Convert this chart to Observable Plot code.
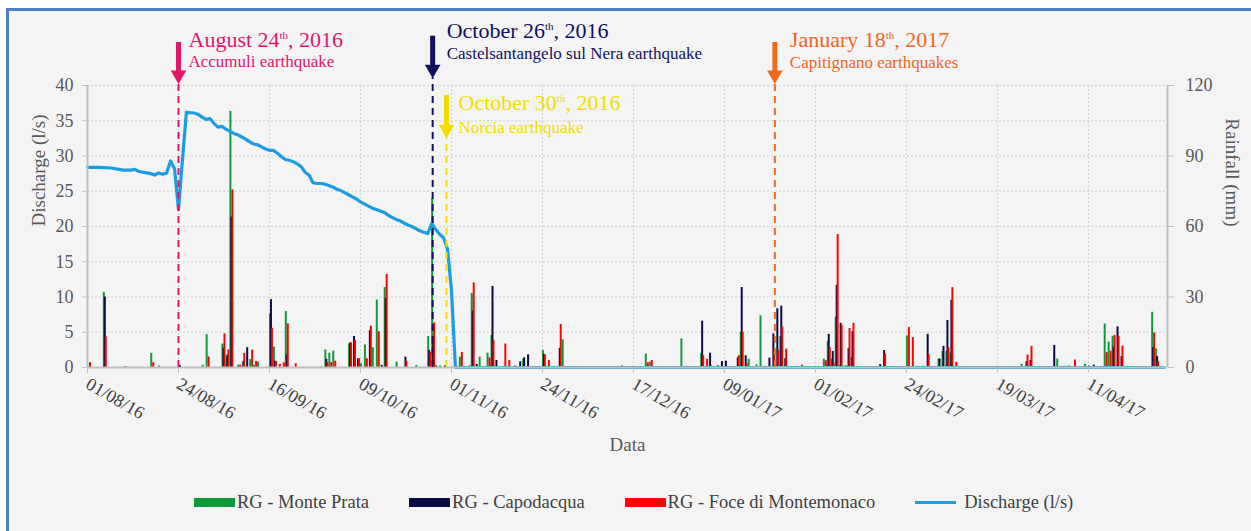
<!DOCTYPE html>
<html><head><meta charset="utf-8">
<script src="https://cdn.jsdelivr.net/npm/d3@7"></script>
<script src="https://cdn.jsdelivr.net/npm/@observablehq/plot@0.6"></script>
<style>
html,body{margin:0;padding:0;background:#fff;}
#wrap{position:relative;width:1251px;height:531px;overflow:hidden;font-family:"Liberation Serif","Times New Roman",serif;}
#frame{position:absolute;left:6px;top:8px;width:1260px;height:540px;background:#f4f4f4;border-left:3px solid #4f7fc0;border-top:3px solid #4f7fc0;}
#chart{position:absolute;left:0;top:0;}
#legend{position:absolute;left:194px;top:492px;display:flex;gap:40px;align-items:center;font-size:18.5px;color:#404040;white-space:nowrap;}
.item{display:flex;align-items:center;gap:2px;}
.sw{width:41px;height:9px;}
.ln{width:41px;height:3px;margin-right:6px;}
</style></head>
<body>
<div id="wrap"><div id="frame"></div><div id="chart"></div><div id="legend"></div></div>
<script>
// ---------- data ----------
const tickDateStrings = ["2016-08-01","2016-08-24","2016-09-16","2016-10-09","2016-11-01","2016-11-24","2016-12-17","2017-01-09","2017-02-01","2017-02-24","2017-03-19","2017-04-11"];

const seriesNames = ["RG - Monte Prata","RG - Capodacqua","RG - Foce di Montemonaco","Discharge (l/s)"];
const seriesColors = ["#0c9a3a","#0a0a45","#ff0000","#1b9de2"];

// daily rainfall (mm)
const montePrata = [
["2016-08-05",32],["2016-08-17",6],["2016-08-19",0.7],["2016-08-30",1],["2016-08-31",14],
["2016-09-04",10],["2016-09-05",4.8],["2016-09-06",109],["2016-09-08",1],["2016-09-11",3.4],["2016-09-12",0.9],["2016-09-13",2.3],["2016-09-16",22.8],["2016-09-17",8.7],["2016-09-20",23.8],["2016-09-29",0.3],["2016-09-30",7.5],
["2016-10-01",6.1],["2016-10-02",7],["2016-10-06",10],["2016-10-09",1.6],["2016-10-10",9.6],["2016-10-12",8.4],["2016-10-13",28.7],["2016-10-15",34],["2016-10-18",2.3],["2016-10-23",0.9],["2016-10-26",13.2],["2016-10-27",72],["2016-10-28",0.9],["2016-10-29",0.7],
["2016-11-03",4.4],["2016-11-06",31.5],["2016-11-08",4.4],["2016-11-10",6.1],["2016-11-11",13.6],["2016-11-17",0.7],["2016-11-19",3.5],["2016-11-24",7.2],["2016-11-29",11.8],
["2016-12-14",0.7],["2016-12-20",5.7],["2016-12-21",2.3],["2016-12-29",12.2],["2016-12-30",0.5],
["2017-01-02",0.4],["2017-01-03",6.1],["2017-01-13",15],["2017-01-15",3.5],["2017-01-17",1.1],["2017-01-18",22],["2017-01-23",13.2],
["2017-02-03",3.6],["2017-02-04",11.1],["2017-02-05",3.6],["2017-02-06",21.4],["2017-02-07",0.7],["2017-02-10",4.3],["2017-02-24",13.4],
["2017-03-04",3.6],["2017-03-05",6.8],["2017-03-06",6.8],["2017-03-07",6.2],["2017-03-25",1.4],
["2017-04-03",3.6],["2017-04-04",0.5],["2017-04-05",0.5],["2017-04-06",0.7],["2017-04-10",1.4],["2017-04-11",0.7],["2017-04-15",18.5],["2017-04-16",10.8],["2017-04-17",13.3],["2017-04-27",23.5],["2017-04-28",7.9]
];
const capodacqua = [
["2016-08-05",30],["2016-08-24",0.8],["2016-09-04",8.2],["2016-09-05",5.4],["2016-09-06",64],["2016-09-09",2.5],["2016-09-10",8.4],["2016-09-16",28.9],["2016-09-17",2.6],["2016-09-20",5.4],["2016-09-30",3.5],
["2016-10-06",10.4],["2016-10-07",13.2],["2016-10-08",3.7],["2016-10-11",15.7],["2016-10-14",0.9],["2016-10-15",29.4],["2016-10-20",4.4],["2016-10-26",7.2],["2016-10-27",10.5],["2016-10-30",0.7],
["2016-11-06",24],["2016-11-07",1.3],["2016-11-11",34.5],["2016-11-12",3],["2016-11-18",2.4],["2016-11-19",4.1],["2016-11-20",5.4],["2016-11-24",5.5],["2016-11-28",8.2],["2016-11-30",0.4],
["2017-01-03",19.7],["2017-01-05",6.1],["2017-01-07",0.7],["2017-01-08",2.5],["2017-01-09",2.7],["2017-01-11",0.3],["2017-01-12",4.1],["2017-01-13",34],["2017-01-14",5],["2017-01-20",4],["2017-01-21",14.3],["2017-01-22",25],["2017-01-23",26.1],["2017-01-24",3.8],
["2017-02-04",14.1],["2017-02-05",6.8],["2017-02-06",35],["2017-02-07",18.8],["2017-02-09",8],["2017-02-10",15.2],["2017-02-17",1.2],["2017-02-18",7.2],["2017-02-28",0.5],
["2017-03-01",14.1],["2017-03-04",3.6],["2017-03-05",9],["2017-03-06",20],["2017-03-07",28.6],["2017-03-26",2.5],["2017-03-27",3],
["2017-04-02",9.4],["2017-04-12",1],["2017-04-17",8.7],["2017-04-18",17.3],["2017-04-19",4.6],["2017-04-27",8.4],["2017-04-28",4.6]
];
const foceMontemonaco = [
["2016-08-01",2],["2016-08-05",13],["2016-08-10",0.4],["2016-08-17",2],["2016-08-31",4.5],
["2016-09-04",14.3],["2016-09-05",7.5],["2016-09-06",75.6],["2016-09-08",1],["2016-09-09",6],["2016-09-11",7.4],["2016-09-12",2.6],["2016-09-16",16.7],["2016-09-17",2.6],["2016-09-18",1.3],["2016-09-19",2],["2016-09-20",18.6],["2016-09-22",1.6],["2016-09-30",2.1],
["2016-10-01",2.1],["2016-10-02",2.7],["2016-10-06",10.5],["2016-10-07",11.5],["2016-10-08",3.7],["2016-10-10",3.7],["2016-10-11",17.6],["2016-10-13",15.2],["2016-10-15",39.6],["2016-10-20",2.6],["2016-10-26",6.4],["2016-10-27",19],
["2016-11-03",6.4],["2016-11-05",0.7],["2016-11-06",36],["2016-11-10",4.1],["2016-11-11",11.5],["2016-11-14",10],["2016-11-15",3],["2016-11-24",5.4],["2016-11-25",3],["2016-11-28",18.3],
["2016-12-15",0.4],["2016-12-20",2],["2016-12-21",3],
["2017-01-03",5],["2017-01-04",3.5],["2017-01-05",0.7],["2017-01-12",5],["2017-01-13",15],["2017-01-14",1.6],["2017-01-21",7],["2017-01-22",7.2],["2017-01-23",17.2],["2017-01-24",7.8],["2017-01-25",0.4],["2017-01-27",0.4],["2017-01-28",1],
["2017-02-03",2.9],["2017-02-04",8.4],["2017-02-05",1.9],["2017-02-06",56.6],["2017-02-07",18],["2017-02-08",0.7],["2017-02-09",16.6],["2017-02-10",18.8],["2017-02-18",5.8],["2017-02-24",17],["2017-02-25",12.7],
["2017-03-01",5.5],["2017-03-05",0.5],["2017-03-06",8.4],["2017-03-07",34],["2017-03-08",2.2],["2017-03-26",5.3],["2017-03-27",9],
["2017-04-07",3.2],["2017-04-15",6.3],["2017-04-16",6.9],["2017-04-17",13.7],["2017-04-18",13.3],["2017-04-19",9.1],["2017-04-20",0.5],["2017-04-27",14.7],["2017-04-28",2.5]
];

// discharge (l/s)
const discharge = [
["2016-08-01",28.4],["2016-08-04",28.4],["2016-08-07",28.3],["2016-08-10",28.0],["2016-08-12",28.0],["2016-08-13",28.1],["2016-08-14",27.8],["2016-08-16",27.6],["2016-08-17",27.5],["2016-08-18",27.3],["2016-08-19",27.6],["2016-08-20",27.4],["2016-08-21",27.6],["2016-08-22",29.3],["2016-08-23",28.2],["2016-08-24",22.4],["2016-08-25",29.5],["2016-08-26",36.2],["2016-08-28",36.1],["2016-08-29",35.9],["2016-08-30",35.5],["2016-08-31",35.2],
["2016-09-01",35.3],["2016-09-02",34.6],["2016-09-03",34.1],["2016-09-04",34.2],["2016-09-05",33.8],["2016-09-06",33.5],["2016-09-07",33.2],["2016-09-08",33.0],["2016-09-09",32.7],["2016-09-10",32.4],["2016-09-11",32.0],["2016-09-12",31.7],["2016-09-13",31.6],["2016-09-14",31.3],["2016-09-15",31.0],["2016-09-16",30.8],["2016-09-17",30.8],["2016-09-18",30.4],["2016-09-19",29.9],["2016-09-20",29.5],["2016-09-21",29.4],["2016-09-22",29.2],["2016-09-23",28.9],["2016-09-24",28.5],["2016-09-25",27.7],["2016-09-26",27.3],["2016-09-27",26.2],["2016-09-28",26.1],["2016-09-29",26.1],["2016-09-30",26.0],
["2016-10-01",25.8],["2016-10-02",25.6],["2016-10-03",25.3],["2016-10-04",25.1],["2016-10-05",24.8],["2016-10-06",24.5],["2016-10-07",24.2],["2016-10-08",23.9],["2016-10-09",23.5],["2016-10-10",23.2],["2016-10-11",22.9],["2016-10-12",22.6],["2016-10-13",22.4],["2016-10-14",22.2],["2016-10-15",22.0],["2016-10-16",21.6],["2016-10-17",21.3],["2016-10-18",21.0],["2016-10-19",20.8],["2016-10-20",20.5],["2016-10-21",20.2],["2016-10-22",20.0],["2016-10-23",19.7],["2016-10-24",19.4],["2016-10-25",19.2],["2016-10-26",19.0],["2016-10-27",20.4],["2016-10-28",19.6],["2016-10-29",18.9],["2016-10-30",18.4],["2016-10-31",16.8],
["2016-11-01",11.0],["2016-11-02",0],["2017-04-30",0]
];

// earthquake annotations
const eventTitles = ["August 24th, 2016","October 26th, 2016","October 30th, 2016","January 18th, 2017"];
const eventSubtitles = ["Accumuli earthquake","Castelsantangelo sul Nera earthquake","Norcia earthquake","Capitignano earthquakes"];
const eventLineDates = ["2016-08-24T00:00Z","2016-10-27T06:00Z","2016-10-30T18:00Z","2017-01-21T18:00Z"]; // where the dashed lines are drawn in the source
const eventColors = ["#e3156b","#10105c","#f5dc00","#ef6a1a"];
const eventTextColors = ["#e3156b","#10105c","#f2dc00","#f26522"];

// ---------- layout (pixel styling, not data) ----------
const eventLayout = [ // in axis units of the left scale
  {top:46.1, tip:40.3, titleY:45.5, subY:42.6, dx:10},
  {top:47.0, tip:41.1, titleY:46.8, subY:43.7, dx:14},
  {top:38.6, tip:32.6, titleY:36.5, subY:33.3, dx:12},
  {top:46.1, tip:40.3, titleY:45.4, subY:42.5, dx:15}
];

const parse = d3.utcParse("%Y-%m-%d");
const DAY = 864e5;
const tickDates = tickDateStrings.map(parse);
const rainSets = [montePrata, capodacqua, foceMontemonaco];
const offsets = [0, 0.25, 0.5];
const bars = rainSets.flatMap((set, i) => set.map(([d, mm]) => ({date: parse(d), mm, series: seriesNames[i], off: offsets[i]})));
const q = discharge.map(([d, v]) => ({date: parse(d), v}));
const events = eventTitles.map((t, i) => ({title: t, sub: eventSubtitles[i], date: new Date(eventLineDates[i]), color: eventColors[i], tcolor: eventTextColors[i], ...eventLayout[i]}));

const domainX = [parse("2016-08-01"), parse("2017-05-01")];
const axisGrey = "#bfbfbf";

const marks = [
  Plot.gridY(d3.range(5, 41, 5), {stroke: "#cfcfcf", strokeOpacity: 1, strokeDasharray: "2,2"}),
  Plot.gridX(tickDates.slice(1), {stroke: "#cfcfcf", strokeOpacity: 1, strokeDasharray: "2,2"}),
  Plot.rect(bars, {
    x1: d => new Date(+d.date + d.off * DAY),
    x2: d => new Date(+d.date + (d.off + 0.5) * DAY),
    y1: () => 0, y2: d => d.mm / 3, fill: "series"
  }),
  Plot.line(q, {x: "date", y: "v", stroke: seriesColors[3], strokeWidth: 3.2, strokeLinejoin: "round"}),
  Plot.ruleY([0], {stroke: axisGrey, strokeWidth: 2}),
  Plot.ruleX([domainX[0], domainX[1]], {y1: 0, y2: 40, stroke: axisGrey, strokeWidth: 2}),
  Plot.axisY({anchor: "left", ticks: d3.range(0, 41, 5), tickSize: 5, tickPadding: 9, fontSize: 18, label: null, stroke: axisGrey, fill: "#595959"}),
  Plot.axisY({anchor: "right", ticks: [0, 10, 20, 30, 40], tickFormat: d => d * 3, tickSize: 6, tickPadding: 12, fontSize: 18, label: null, stroke: axisGrey, fill: "#595959"}),
  Plot.axisX({ticks: tickDates, tickFormat: d3.utcFormat("%d/%m/%y"), tickRotate: 30, tickSize: 6, tickPadding: 9, fontSize: 18, label: null, stroke: axisGrey, fill: "#404040"}),
  Plot.text(["Discharge (l/s)"], {frameAnchor: "left", dx: -49, rotate: -90, fontSize: 19, fill: "#595959"}),
  Plot.text(["Rainfall (mm)"], {frameAnchor: "right", dx: 65, rotate: 90, fontSize: 19, fill: "#595959"}),
  Plot.text(["Data"], {frameAnchor: "bottom", dy: 83, fontSize: 19, fill: "#595959"}),
  // event dashed lines
  Plot.ruleX(events, {x: "date", y1: () => 0, y2: "tip", stroke: "color", strokeWidth: 2, strokeDasharray: "7,5"}),
  // arrow shafts
  Plot.ruleX(events, {x: "date", y1: "top", y2: d => d.tip + 1.6, stroke: "color", strokeWidth: 5}),
  // arrow heads
  Plot.dot(events, {x: "date", y: "tip", dy: -8.5, symbol: "triangle", rotate: 180, r: 5.8, fill: "color", stroke: "none"}),
  ...events.map(e => Plot.text([e], {x: "date", y: "titleY", dx: e.dx, text: "title", textAnchor: "start", lineAnchor: "bottom", fontSize: 22, fill: "tcolor"})),
  ...events.map(e => Plot.text([e], {x: "date", y: "subY", dx: e.dx, text: "sub", textAnchor: "start", lineAnchor: "bottom", fontSize: 17, fill: "tcolor"}))
];

const chart = Plot.plot({
  width: 1251, height: 480,
  marginLeft: 87, marginRight: 84, marginTop: 85, marginBottom: 113,
  style: {background: "transparent", fontFamily: "'Liberation Serif', 'Times New Roman', serif", fontSize: "17px", color: "#595959", overflow: "visible"},
  x: {type: "utc", domain: domainX},
  y: {domain: [0, 40]},
  color: {domain: seriesNames.slice(0, 3), range: seriesColors.slice(0, 3)},
  marks
});

// superscript "th"
d3.select(chart).selectAll("text").each(function() {
  if (this.childElementCount) return;
  const m = this.textContent.match(/^(.*\d)(th)(,.*)$/);
  if (!m) return;
  const sel = d3.select(this);
  this.textContent = "";
  sel.append("tspan").text(m[1]);
  sel.append("tspan").attr("font-size", "11px").attr("dy", "-8").text(m[2]);
  sel.append("tspan").attr("dy", "8").text(m[3]);
});
document.getElementById("chart").appendChild(chart);

// legend
const legend = d3.select("#legend");
seriesNames.forEach((name, i) => {
  const item = legend.append("div").attr("class", "item");
  item.append("div").attr("class", i < 3 ? "sw" : "ln").style("background", seriesColors[i]);
  item.append("span").text(name);
});
</script>
</body></html>
